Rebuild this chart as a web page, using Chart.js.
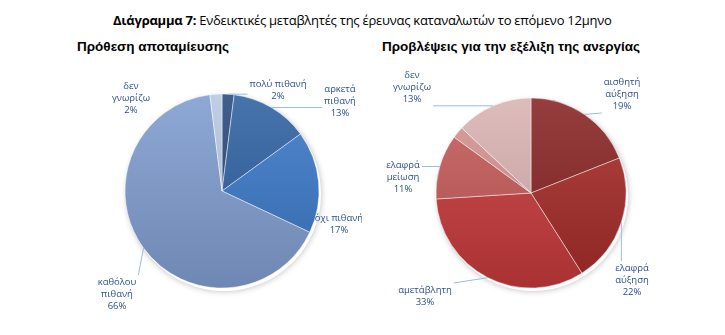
<!DOCTYPE html>
<html lang="el">
<head>
<meta charset="utf-8">
<script src="https://cdn.jsdelivr.net/npm/chart.js@4"></script>
<style>
  html, body { margin: 0; padding: 0; background: #fff; }
  body { width: 725px; height: 335px; position: relative; overflow: hidden; }
  .title { position: absolute; left: 113px; top: 11px; font-family: 'Open Sans', sans-serif; font-size: 13px; letter-spacing: -0.25px; color: #000; white-space: nowrap; }
  .title b { font-weight: 700; }
  .sub { position: absolute; top: 39px; font-family: 'Liberation Sans', Arial, sans-serif; font-weight: 700; font-size: 13.5px; color: #000; white-space: nowrap; }
  canvas { position: absolute; top: 0; }
</style>
</head>
<body>
<div class="title"><b>Διάγραμμα 7:</b> Ενδεικτικές μεταβλητές της έρευνας καταναλωτών το επόμενο 12μηνο</div>
<div class="sub" style="left:77px">Πρόθεση αποταμίευσης</div>
<div class="sub" style="left:382px">Προβλέψεις για την εξέλιξη της ανεργίας</div>
<canvas id="savingsChart" width="362" height="335" style="left:0"></canvas>
<canvas id="unemploymentChart" width="363" height="335" style="left:362px"></canvas>

<script>
// Πρόθεση αποταμίευσης
const savingsLabels = [['πολύ πιθανή'], ['αρκετά', 'πιθανή'], ['όχι πιθανή'], ['καθόλου', 'πιθανή'], ['δεν', 'γνωρίζω']];
const savingsValues = [2, 13, 17, 66, 2];
const savingsColors = ['#27497c', '#2f61a2', '#3a78c7', '#809dd0', '#b7c8e2'];

// Προβλέψεις για την εξέλιξη της ανεργίας
const unemploymentLabels = [['αισθητή', 'αύξηση'], ['ελαφρά', 'αύξηση'], ['αμετάβλητη'], ['ελαφρά', 'μείωση'], ['αισθητή', 'μείωση'], ['δεν', 'γνωρίζω']];
const unemploymentValues = [19, 22, 33, 11, 2, 13];
const unemploymentColors = ['#882422', '#a52b29', '#c6393a', '#c45a58', '#d69391', '#dab3b2'];

const labelColor = '#2b4f8e';
const leaderColor = '#9bbbe4';
const labelFont = "9.5px 'Open Sans', sans-serif";

// Μετατόπιση χρώματος για τη διαβάθμιση
function shade(hex, amt) {
    const n = parseInt(hex.slice(1), 16);
    let r = (n >> 16) & 255, g = (n >> 8) & 255, b = n & 255;
    const f = c => Math.max(0, Math.min(255, Math.round(amt > 0 ? c + (255 - c) * amt : c * (1 + amt))));
    return `rgb(${f(r)}, ${f(g)}, ${f(b)})`;
}

function gradientFill(colors) {
    return function(context) {
        const base = colors[context.dataIndex];
        const area = context.chart.chartArea;
        if (!area) return base;
        const g = context.chart.ctx.createLinearGradient(0, area.top, 0, area.bottom);
        g.addColorStop(0, shade(base, 0.12));
        g.addColorStop(1, shade(base, -0.14));
        return g;
    };
}

// Ετικέτες με γραμμές οδηγούς
const pieLabels = {
    id: 'pieLabels',
    beforeDatasetsDraw(chart) {
        const arc = chart.getDatasetMeta(0).data[0];
        if (!arc) return;
        const ctx = chart.ctx;
        ctx.save();
        ctx.beginPath();
        ctx.arc(arc.x + 2, arc.y + 3, arc.outerRadius, 0, Math.PI * 2);
        ctx.fillStyle = '#fff';
        ctx.shadowColor = 'rgba(0,0,0,0.28)';
        ctx.shadowBlur = 6;
        ctx.fill();
        ctx.restore();
    },
    afterDatasetsDraw(chart, args, opts) {
        const ctx = chart.ctx;
        const meta = chart.getDatasetMeta(0);
        const values = chart.data.datasets[0].data;
        const lh = 12;
        ctx.save();
        ctx.font = labelFont;
        ctx.textAlign = 'center';
        ctx.textBaseline = 'middle';
        meta.data.forEach((el, i) => {
            const pos = opts.positions[i];
            if (!pos) return;
            const lines = chart.data.labels[i].concat([values[i] + '%']);
            const cx = el.x + pos[0], cy = el.y + pos[1];
            const w = Math.max(...lines.map(t => ctx.measureText(t).width));
            const h = lines.length * lh;
            if (pos[2]) {
                const mid = (el.startAngle + el.endAngle) / 2;
                const ax = el.x + el.outerRadius * Math.cos(mid);
                const ay = el.y + el.outerRadius * Math.sin(mid);
                const bx = Math.max(cx - w / 2 - 2, Math.min(ax, cx + w / 2 + 2));
                const by = Math.max(cy - h / 2 - 1, Math.min(ay, cy + h / 2 + 1));
                ctx.strokeStyle = leaderColor;
                ctx.lineWidth = 1;
                ctx.beginPath();
                ctx.moveTo(ax, ay);
                ctx.lineTo(bx, by);
                ctx.stroke();
            }
            ctx.fillStyle = labelColor;
            lines.forEach((t, k) => {
                ctx.fillText(t, cx, cy - h / 2 + lh / 2 + k * lh);
            });
        });
        ctx.restore();
    }
};

function makePie(id, labels, values, colors, padding, positions) {
    const ctx = document.getElementById(id).getContext('2d');
    return new Chart(ctx, {
        type: 'pie',
        data: {
            labels: labels,
            datasets: [{
                data: values,
                backgroundColor: gradientFill(colors),
                borderColor: 'rgba(255,255,255,0.45)',
                borderWidth: 1
            }]
        },
        options: {
            responsive: false,
            animation: false,
            layout: { padding: padding },
            plugins: {
                legend: { display: false },
                tooltip: { enabled: false },
                pieLabels: { positions: positions }
            }
        },
        plugins: [pieLabels]
    });
}

// [dx, dy, γραμμή οδηγός] ως προς το κέντρο της πίτας
makePie('savingsChart', savingsLabels, savingsValues, savingsColors,
    { left: 124.5, top: 93.5, right: 42.5, bottom: 46.5 },
    [[56, -101, true], [118, -90, true], [117, 33, false], [-105, 103, true], [-91, -93, false]]);

makePie('unemploymentChart', unemploymentLabels, unemploymentValues, unemploymentColors,
    { left: 73.5, top: 97.5, right: 98.5, bottom: 46.5 },
    [[91, -99, true], [101, 87, true], [-106, 103, true], [-128, -16, true], null, [-119, -106, true]]);
</script>
</body>
</html>
